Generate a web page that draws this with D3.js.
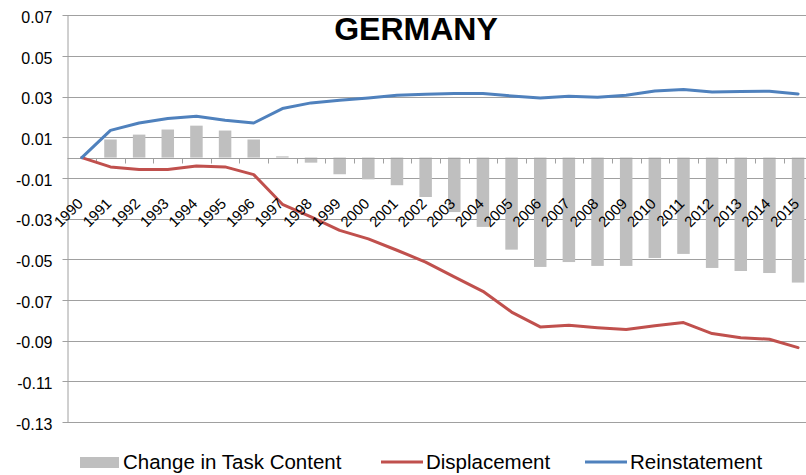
<!DOCTYPE html>
<html>
<head>
<meta charset="utf-8">
<script src="https://cdn.jsdelivr.net/npm/d3@7"></script>
<style>
  body { margin: 0; background: #fff; }
  svg { display: block; font-family: "Liberation Sans", Arial, sans-serif; }
</style>
</head>
<body>
<script>
const years = d3.range(1990, 2016).map(String);

const taskContent = [0, 0.0089, 0.0113, 0.0138, 0.0157, 0.0133, 0.0089, 0.0006, -0.0025, -0.0082,
  -0.0107, -0.0136, -0.0194, -0.0268, -0.0341, -0.0453, -0.0538, -0.0514, -0.0533, -0.0533,
  -0.0494, -0.0474, -0.0543, -0.0558, -0.0568, -0.0615];

const displacement = [0, -0.0046, -0.0059, -0.0059, -0.0041, -0.0046, -0.0084, -0.0230, -0.0292, -0.0358,
  -0.0400, -0.0456, -0.0514, -0.0587, -0.0658, -0.0760, -0.0833, -0.0825, -0.0837, -0.0846,
  -0.0827, -0.0812, -0.0866, -0.0886, -0.0894, -0.0935];

const reinstatement = [0, 0.0134, 0.0170, 0.0192, 0.0203, 0.0184, 0.0170, 0.0241, 0.0269, 0.0282,
  0.0293, 0.0307, 0.0311, 0.0315, 0.0315, 0.0303, 0.0293, 0.0302, 0.0297, 0.0307,
  0.0328, 0.0335, 0.0323, 0.0325, 0.0326, 0.0313];

const yTicks = [0.07, 0.05, 0.03, 0.01, -0.01, -0.03, -0.05, -0.07, -0.09, -0.11, -0.13];

const W = 806, H = 475;
const plotLeft = 67.5, plotTop = 15.3, plotBottom = 421.8;

const svg = d3.select("body")
.append("svg")
.attr("width", W)
.attr("height", H);

const x = d3.scaleBand()
.domain(years)
.range([plotLeft, plotLeft + 26 * 28.65]);

const y = d3.scaleLinear()
.domain([-0.13, 0.07])
.range([plotBottom, plotTop]);

const cx = d => x(d) + x.bandwidth() / 2;

// gridlines
svg.append("g")
.selectAll("line")
.data(yTicks)
.join("line")
.attr("x1", plotLeft - 5)
.attr("x2", W)
.attr("y1", d => Math.round(y(d)) + 0.5)
.attr("y2", d => Math.round(y(d)) + 0.5)
.attr("stroke", "#a0a0a0")
.attr("stroke-width", 1);

// y axis
const yAxis = svg.append("g")
.attr("transform", `translate(${plotLeft},0)`)
.call(d3.axisLeft(y).tickValues(yTicks).tickFormat(d => d.toFixed(2)).tickSize(0).tickPadding(15));
yAxis.select(".domain").attr("stroke", "#a0a0a0");
yAxis.selectAll("text")
.attr("font-size", 16)
.attr("dy", "0.45em")
.attr("fill", "#000")
.attr("font-family", "Liberation Sans, Arial, sans-serif");

// bars
const barW = 12.5;
svg.append("g")
.selectAll("rect")
.data(taskContent)
.join("rect")
.attr("x", (d, i) => cx(years[i]) - barW / 2)
.attr("y", d => y(Math.max(0, d)))
.attr("width", barW)
.attr("height", d => Math.abs(y(d) - y(0)))
.attr("fill", "#bfbfbf");

// x axis at zero
const y0 = Math.round(y(0)) + 0.5;
svg.append("line")
.attr("x1", plotLeft).attr("x2", W)
.attr("y1", y0).attr("y2", y0)
.attr("stroke", "#a0a0a0");

svg.append("g")
.selectAll("line")
.data(years.slice(1))
.join("line")
.attr("x1", d => Math.round(x(d)) + 0.5)
.attr("x2", d => Math.round(x(d)) + 0.5)
.attr("y1", y0)
.attr("y2", y0 + 5)
.attr("stroke", "#a0a0a0");

// lines
const line = d3.line()
.x((d, i) => cx(years[i]))
.y(d => y(d));

svg.append("path")
.datum(displacement)
.attr("d", line)
.attr("fill", "none")
.attr("stroke", "#c0504d")
.attr("stroke-width", 3)
.attr("stroke-linejoin", "round")
.attr("stroke-linecap", "round");

svg.append("path")
.datum(reinstatement)
.attr("d", line)
.attr("fill", "none")
.attr("stroke", "#4f81bd")
.attr("stroke-width", 3)
.attr("stroke-linejoin", "round")
.attr("stroke-linecap", "round");

// x labels
svg.append("g")
.selectAll("text")
.data(years)
.join("text")
.attr("transform", d => `translate(${cx(d) + 2},${y0 + 46}) rotate(-45)`)
.attr("text-anchor", "end")
.attr("font-size", 15)
.attr("fill", "#000")
.text(d => d);

// title
svg.append("text")
.attr("x", 416)
.attr("y", 40)
.attr("text-anchor", "middle")
.attr("font-size", 32)
.attr("font-weight", "bold")
.attr("fill", "#000")
.text("GERMANY");

// legend
const legend = svg.append("g").attr("font-size", 20.5).attr("fill", "#000");
legend.append("rect").attr("x", 80).attr("y", 457).attr("width", 39).attr("height", 11).attr("fill", "#bfbfbf");
legend.append("text").attr("x", 123).attr("y", 469).text("Change in Task Content");
legend.append("line").attr("x1", 381).attr("x2", 423).attr("y1", 462).attr("y2", 462)
.attr("stroke", "#c0504d").attr("stroke-width", 3);
legend.append("text").attr("x", 426).attr("y", 469).text("Displacement");
legend.append("line").attr("x1", 585).attr("x2", 627).attr("y1", 462).attr("y2", 462)
.attr("stroke", "#4f81bd").attr("stroke-width", 3);
legend.append("text").attr("x", 630).attr("y", 469).text("Reinstatement");
</script>
</body>
</html>
